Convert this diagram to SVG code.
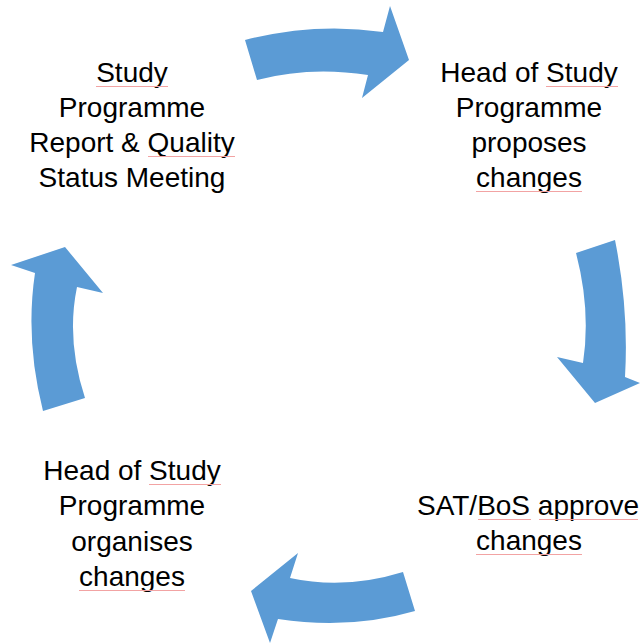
<svg xmlns="http://www.w3.org/2000/svg" width="640" height="644" viewBox="0 0 640 644">
<style>
.arrow{fill:#5B9BD5;stroke:none}
.lbl{font-family:"Liberation Sans",Arial,sans-serif;font-size:28px;fill:#000;text-anchor:middle}
.sq{stroke:#f2a3a3;stroke-width:1;fill:none}
</style>
<rect width="640" height="644" fill="#fff"/>
<g id="connectors">
<path id="arrow-top" class="arrow" d="M245,40 Q315,22 383,32 L390,6 L409,60 L362,98 L368,75 Q310,66 257,80 Z"/>
<path id="arrow-right" class="arrow" d="M615,240 Q629,310 625,377 L640,383 L595,403 L557,357 L583,363 Q591,310 576,253 Z"/>
<path id="arrow-bottom" class="arrow" d="M403,572 Q345,590 290,578 L298,553 L251,591 L270,643 L278,619 Q350,630 415,611 Z"/>
<path id="arrow-left" class="arrow" d="M43,411 Q25,340 35,273 L11,265 L65,247 L103,293 L77,287 Q66,340 85,398 Z"/>
</g>
<g id="node-report">
<text class="lbl" x="132" y="82">Study</text>
<text class="lbl" x="132" y="117">Programme</text>
<text class="lbl" x="132" y="152">Report &amp; Quality</text>
<text class="lbl" x="132" y="187">Status Meeting</text>
</g>
<g id="node-proposes">
<text class="lbl" x="529" y="82">Head of Study</text>
<text class="lbl" x="529" y="117">Programme</text>
<text class="lbl" x="529" y="152">proposes</text>
<text class="lbl" x="529" y="187">changes</text>
</g>
<g id="node-approve">
<text class="lbl" x="528" y="515">SAT/BoS approve</text>
<text class="lbl" x="529" y="550">changes</text>
</g>
<g id="node-organises">
<text class="lbl" x="132" y="480">Head of Study</text>
<text class="lbl" x="132" y="515">Programme</text>
<text class="lbl" x="132" y="551">organises</text>
<text class="lbl" x="132" y="586">changes</text>
</g>
<g id="spellcheck">
<path class="sq" d="M96,86.5H168"/>
<path class="sq" d="M148,156.5H235"/>
<path class="sq" d="M546,86.5H618"/>
<path class="sq" d="M476,191.5H582"/>
<path class="sq" d="M478,519.5H531"/>
<path class="sq" d="M539,519.5H638"/>
<path class="sq" d="M476,554.5H582"/>
<path class="sq" d="M149,484.5H221"/>
<path class="sq" d="M79,590.5H185"/>
</g>
</svg>
